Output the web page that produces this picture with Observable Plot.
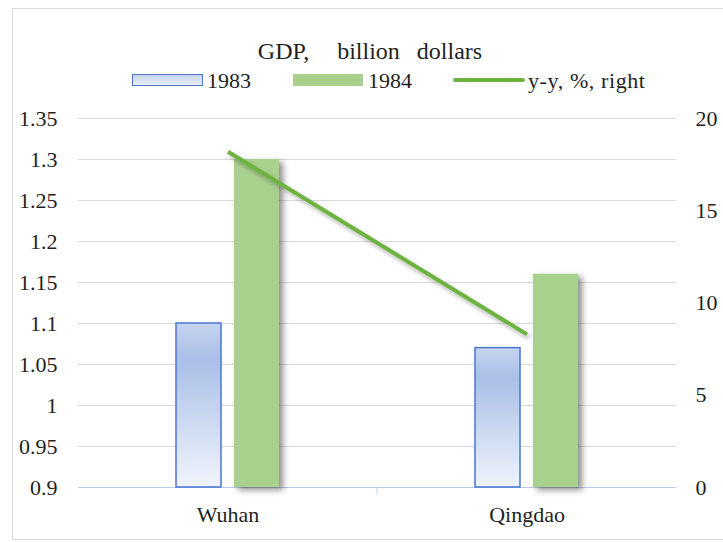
<!DOCTYPE html>
<html><head><meta charset="utf-8">
<script src="https://cdn.jsdelivr.net/npm/d3@7"></script>
<script src="https://cdn.jsdelivr.net/npm/@observablehq/plot@0.6"></script>
<style>
body{margin:0;background:#fff;}
#wrap{position:relative;width:723px;height:542px;overflow:hidden;font-family:"Liberation Serif",serif;color:#1f1f1f;}
#frame{position:absolute;left:12px;top:8px;width:720px;height:532px;border:1px solid #d9d9d9;box-sizing:border-box;}
#chart{position:absolute;left:0;top:0;}
#title{position:absolute;left:0;width:740px;top:39px;text-align:center;font-size:24px;line-height:24px;white-space:pre;font-family:"Liberation Serif",serif;}
.lg{position:absolute;font-size:22px;line-height:22px;white-space:pre;font-family:"Liberation Serif",serif;}
.sw{position:absolute;box-sizing:border-box;}
</style></head>
<body>
<div id="wrap">
  <div id="frame"></div>
  <div id="chart"></div>
  <div id="title"><span>GDP,</span><span style="margin-left:28px">billion</span><span style="margin-left:17px">dollars</span></div>
  <div class="sw" style="left:132px;top:74px;width:71px;height:12px;border:1.5px solid #4a75d1;background:linear-gradient(to bottom,#c6d4ef,#e9effa);"></div>
  <div class="lg" style="left:207px;top:70px;">1983</div>
  <div class="sw" style="left:293px;top:74px;width:70px;height:12px;background:#a9d18e;"></div>
  <div class="lg" style="left:368px;top:70px;">1984</div>
  <div class="sw" style="left:453px;top:78px;width:72px;height:4px;background:#6cb33f;border-radius:2px;"></div>
  <div class="lg" style="left:528px;top:70px;letter-spacing:0.6px;">y-y, %, right</div>
</div>
<script>
const cities = ["Wuhan", "Qingdao"];
const gdp1983 = [1.10, 1.07];
const gdp1984 = [1.30, 1.16];
const yoy = [18.2, 8.3];
const leftTicks = [0.9, 0.95, 1.0, 1.05, 1.1, 1.15, 1.2, 1.25, 1.3, 1.35];
const rightTicks = [0, 5, 10, 15, 20];

const rows = cities.map((c, i) => ({city: c, v83: gdp1983[i], v84: gdp1984[i], yoy: yoy[i]}));
const L0 = leftTicks[0], L1 = leftTicks[leftTicks.length - 1];
const R0 = rightTicks[0], R1 = rightTicks[rightTicks.length - 1];
const toLeft = v => L0 + (v - R0) * (L1 - L0) / (R1 - R0);
const toRight = d => Math.round(R0 + (d - L0) * (R1 - R0) / (L1 - L0));

const chart = Plot.plot({
  width: 723, height: 542,
  marginLeft: 78, marginRight: 47, marginTop: 118, marginBottom: 55,
  x: {domain: cities, padding: 0, label: null},
  y: {domain: [L0, L1], label: null},
  style: {fontFamily: "Liberation Serif", fontSize: "22px", color: "#1f1f1f", background: "transparent", overflow: "visible"},
  marks: [
    Plot.gridY(leftTicks.slice(1), {stroke: "#d9d9d9", strokeOpacity: 1, strokeWidth: 1}),
    Plot.ruleY([L0], {stroke: "#bccbe9", strokeWidth: 1}),
    Plot.axisY({ticks: leftTicks, tickSize: 0, tickPadding: 21, label: null, tickFormat: d => String(+d.toFixed(2))}),
    Plot.axisY({anchor: "right", ticks: rightTicks.map(toLeft), tickSize: 0, tickPadding: 19, label: null, tickFormat: toRight}),
    Plot.axisX({tickSize: 0, tickPadding: 19, label: null}),
    Plot.barY(rows, {x: "city", y1: L0, y2: "v83", insetLeft: 98, insetRight: 156, fill: "url(#g83)", stroke: "#4a75d1", strokeWidth: 1.5}),
    Plot.barY(rows, {x: "city", y1: L0, y2: "v84", insetLeft: 156, insetRight: 98, fill: "#a9d18e"}),
    Plot.lineY(rows, {x: "city", y: d => toLeft(d.yoy), stroke: "#6cb33f", strokeWidth: 4, strokeLinecap: "butt"})
  ]
});
document.getElementById("chart").appendChild(chart);

const svg = d3.select(chart);
svg.style("font-family", "'Liberation Serif', serif");
const defs = svg.insert("defs", ":first-child");
const grad = defs.append("linearGradient").attr("id", "g83").attr("x1", 0).attr("y1", 0).attr("x2", 0).attr("y2", 1);
grad.append("stop").attr("offset", "0").attr("stop-color", "#c6d4ef");
grad.append("stop").attr("offset", "0.22").attr("stop-color", "#a9bfe7");
grad.append("stop").attr("offset", "1").attr("stop-color", "#f0f4fb");
defs.append("filter").attr("id", "sh").attr("x", "-20%").attr("y", "-20%").attr("width", "160%").attr("height", "150%")
  .append("feDropShadow").attr("dx", 4).attr("dy", 3).attr("stdDeviation", 3).attr("flood-color", "#000").attr("flood-opacity", 0.45);
defs.append("filter").attr("id", "sh2").attr("x", "-20%").attr("y", "-50%").attr("width", "140%").attr("height", "200%")
  .append("feDropShadow").attr("dx", 2).attr("dy", 3).attr("stdDeviation", 2).attr("flood-color", "#000").attr("flood-opacity", 0.3);

const bars = svg.selectAll("g[aria-label=bar]").nodes();
if (bars[1]) d3.select(bars[1]).attr("filter", "url(#sh)");
svg.selectAll("g[aria-label=line]").attr("filter", "url(#sh2)");

// category separator tick on the bottom axis
const xs = chart.scale("x");
const ys = chart.scale("y");
const sepX = xs.apply(cities[1]);
const baseY = ys.apply(L0);
svg.append("line").attr("x1", sepX).attr("x2", sepX).attr("y1", baseY).attr("y2", baseY + 7).attr("stroke", "#bccbe9");
</script>
</body></html>
